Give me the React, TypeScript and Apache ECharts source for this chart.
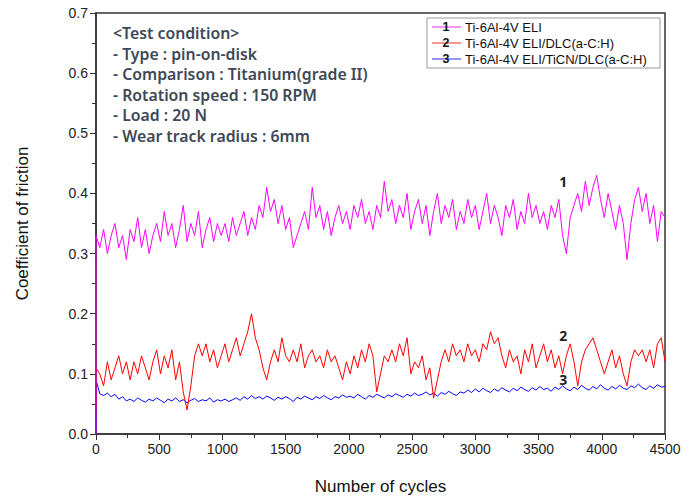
import React, { useEffect, useRef } from "react";
import * as echarts from "echarts";

const cycleStep = 30;
const seriesNames = ["Ti-6Al-4V ELI", "Ti-6Al-4V ELI/DLC(a-C:H)", "Ti-6Al-4V ELI/TiCN/DLC(a-C:H)"];
const seriesColors = ["#ff00ff", "#ff0000", "#0000ff"];
const legendLineColors = ["#f070f0", "#f07070", "#7070f0"];
const startValues = [0, 0.04, 0];

const cofTi = [
  0.33, 0.31, 0.34, 0.30, 0.33, 0.35, 0.31, 0.33, 0.29, 0.34, 0.32, 0.36, 0.31, 0.34, 0.30, 0.33, 0.35,
  0.32, 0.37, 0.33, 0.35, 0.31, 0.34, 0.38, 0.32, 0.35, 0.33, 0.37, 0.31, 0.34, 0.36, 0.32, 0.35, 0.33,
  0.35, 0.32, 0.36, 0.33, 0.35, 0.37, 0.33, 0.36, 0.34, 0.38, 0.36, 0.41, 0.37, 0.39, 0.35, 0.38, 0.34,
  0.36, 0.31, 0.33, 0.35, 0.37, 0.34, 0.41, 0.36, 0.38, 0.34, 0.37, 0.33, 0.36, 0.38, 0.35, 0.37,
  0.34, 0.38, 0.36, 0.39, 0.35, 0.37, 0.34, 0.38, 0.36, 0.42, 0.37, 0.39, 0.35, 0.38, 0.36, 0.40, 0.34,
  0.37, 0.39, 0.35, 0.38, 0.33, 0.37, 0.40, 0.35, 0.38, 0.36, 0.39, 0.34, 0.37, 0.35, 0.39, 0.36, 0.38,
  0.34, 0.37, 0.40, 0.35, 0.38, 0.36, 0.33, 0.38, 0.36, 0.39, 0.34, 0.37, 0.35, 0.40, 0.36, 0.38,
  0.35, 0.37, 0.34, 0.38, 0.36, 0.39, 0.33, 0.30, 0.36, 0.38, 0.40, 0.37, 0.42, 0.38, 0.41, 0.43, 0.39,
  0.36, 0.40, 0.37, 0.34, 0.38, 0.35, 0.29, 0.35, 0.39, 0.41, 0.37, 0.40, 0.35, 0.38, 0.32, 0.37, 0.36,
];

const cofDlc = [
  0.11, 0.10, 0.08, 0.12, 0.09, 0.11, 0.13, 0.10, 0.12, 0.09, 0.12, 0.10, 0.13, 0.11, 0.09, 0.12, 0.14,
  0.10, 0.13, 0.11, 0.14, 0.09, 0.12, 0.07, 0.04, 0.08, 0.13, 0.15, 0.13, 0.15, 0.12, 0.14, 0.11, 0.13,
  0.15, 0.12, 0.14, 0.16, 0.13, 0.15, 0.17, 0.20, 0.16, 0.14, 0.11, 0.09, 0.12, 0.14, 0.12, 0.16, 0.13,
  0.12, 0.14, 0.12, 0.15, 0.11, 0.13, 0.14, 0.12, 0.13, 0.11, 0.14, 0.12, 0.13, 0.11, 0.09, 0.12,
  0.10, 0.13, 0.11, 0.14, 0.12, 0.15, 0.13, 0.07, 0.10, 0.13, 0.12, 0.14, 0.12, 0.15, 0.13, 0.16, 0.10,
  0.12, 0.11, 0.13, 0.09, 0.11, 0.06, 0.09, 0.12, 0.14, 0.12, 0.15, 0.13, 0.14, 0.12, 0.15, 0.13, 0.14,
  0.12, 0.15, 0.14, 0.17, 0.15, 0.16, 0.13, 0.11, 0.14, 0.12, 0.13, 0.10, 0.14, 0.12, 0.15, 0.11,
  0.13, 0.15, 0.12, 0.14, 0.11, 0.13, 0.10, 0.13, 0.15, 0.12, 0.08, 0.12, 0.14, 0.15, 0.16, 0.14, 0.12,
  0.10, 0.12, 0.14, 0.11, 0.13, 0.10, 0.08, 0.12, 0.14, 0.13, 0.14, 0.12, 0.14, 0.11, 0.15, 0.16, 0.12,
];

const cofTicnDlc = [
  0.09, 0.067, 0.064, 0.068, 0.062, 0.066, 0.058, 0.062, 0.055, 0.058, 0.054, 0.060, 0.056, 0.053, 0.058, 0.055, 0.060,
  0.056, 0.052, 0.058, 0.055, 0.060, 0.054, 0.057, 0.052, 0.056, 0.059, 0.054, 0.057, 0.055, 0.060, 0.053, 0.057, 0.055,
  0.058, 0.054, 0.057, 0.060, 0.056, 0.062, 0.058, 0.064, 0.059, 0.062, 0.058, 0.063, 0.060, 0.056, 0.061, 0.058, 0.062,
  0.059, 0.054, 0.061, 0.058, 0.063, 0.060, 0.057, 0.062, 0.059, 0.064, 0.060, 0.057, 0.062, 0.060, 0.065, 0.061,
  0.063, 0.060, 0.066, 0.062, 0.058, 0.064, 0.061, 0.066, 0.063, 0.060, 0.065, 0.062, 0.067, 0.064, 0.061, 0.066, 0.063,
  0.068, 0.064, 0.066, 0.070, 0.065, 0.068, 0.063, 0.069, 0.066, 0.071, 0.067, 0.064, 0.070, 0.068, 0.073, 0.069, 0.075,
  0.070, 0.076, 0.072, 0.069, 0.075, 0.071, 0.077, 0.073, 0.070, 0.076, 0.072, 0.078, 0.074, 0.071, 0.077, 0.073,
  0.079, 0.074, 0.076, 0.071, 0.078, 0.074, 0.080, 0.075, 0.072, 0.078, 0.074, 0.081, 0.076, 0.073, 0.079, 0.075, 0.082,
  0.076, 0.073, 0.079, 0.075, 0.081, 0.076, 0.074, 0.080, 0.077, 0.083, 0.077, 0.074, 0.080, 0.076, 0.082, 0.078, 0.079,
];

const curveLabels = ["1", "2", "3"];
const curveLabelCoords = [
  [3695, 0.42],
  [3695, 0.164],
  [3695, 0.091],
];

const testConditionLines = [
  "<Test condition>",
  "- Type : pin-on-disk",
  "- Comparison : Titanium(grade II)",
  "- Rotation speed : 150 RPM",
  "- Load : 20 N",
  "- Wear track radius : 6mm",
];

const allValues = [cofTi, cofDlc, cofTicnDlc];

export default function App() {
  const ref = useRef<HTMLDivElement>(null);
  useEffect(() => {
    if (!ref.current) return;
    const chart = echarts.init(ref.current, null, { renderer: "svg" });
    const series = allValues.map((vals, si) => ({
      name: seriesNames[si],
      type: "line",
      showSymbol: false,
      symbol: "none",
      z: 5 - si,
      lineStyle: { color: seriesColors[si], width: 1 },
      data: [[0, startValues[si]], ...vals.map((v, i) => [i * cycleStep, v])],
      markPoint: {
        symbol: "circle",
        symbolSize: 0,
        label: {
          show: true,
          formatter: curveLabels[si],
          color: "#222",
          fontFamily: "Noto Sans",
          fontWeight: "bold",
          fontSize: 14,
          position: "inside",
        },
        data: [{ coord: curveLabelCoords[si] }],
      },
    }));

    const legendGraphics: any[] = [
      {
        type: "rect",
        shape: { x: 427, y: 18, width: 233, height: 50 },
        style: { fill: "#fff", stroke: "#9a9a9a", lineWidth: 1 },
        z: 10,
      },
    ];
    seriesNames.forEach((name, i) => {
      const y = 27 + i * 16;
      legendGraphics.push({
        type: "line",
        shape: { x1: 432, y1: y, x2: 461, y2: y },
        style: { stroke: legendLineColors[i], lineWidth: 1.5 },
        z: 11,
      });
      legendGraphics.push({
        type: "text",
        x: 446,
        y: y,
        style: {
          text: curveLabels[i],
          fill: "#111",
          fontFamily: "Liberation Sans",
          fontWeight: "bold",
          fontSize: 12.5,
          lineHeight: 14,
          align: "center",
          verticalAlign: "middle",
        },
        z: 12,
      });
      legendGraphics.push({
        type: "text",
        x: 465,
        y: y,
        style: {
          text: name,
          fill: "#111",
          fontFamily: "Liberation Sans",
          fontSize: 13,
          lineHeight: 15,
          align: "left",
          verticalAlign: "middle",
        },
        z: 12,
      });
    });

    const conditionGraphics = testConditionLines.map((line, i) => ({
      type: "text",
      x: 113,
      y: 33 + i * 20.6,
      style: {
        text: line,
        fill: "#3d4858",
        fontFamily: "Noto Sans",
        fontWeight: 600,
        fontSize: 15.8,
        lineHeight: 19,
        verticalAlign: "middle",
      },
      z: 10,
    }));

    chart.setOption({
      animation: false,
      backgroundColor: "#fff",
      grid: {
        left: 96,
        right: 34,
        top: 13,
        bottom: 64,
        show: true,
        borderColor: "#333",
        borderWidth: 1.5,
        backgroundColor: "transparent",
      },
      xAxis: {
        type: "value",
        min: 0,
        max: 4500,
        interval: 500,
        name: "Number of cycles",
        nameLocation: "middle",
        nameGap: 44,
        nameTextStyle: { fontFamily: "Liberation Sans", fontSize: 17, color: "#111" },
        axisLine: { show: true, onZero: false, lineStyle: { color: "#333", width: 1.5 } },
        axisTick: { show: true, inside: false, length: 6, lineStyle: { color: "#333" } },
        minorTick: { show: true, splitNumber: 2, length: 4, lineStyle: { color: "#333" } },
        splitLine: { show: false },
        axisLabel: {
          fontFamily: "Liberation Sans",
          fontSize: 14,
          color: "#222",
          margin: 8,
          formatter: (v: number) => String(v),
        },
      },
      yAxis: {
        type: "value",
        min: 0,
        max: 0.7,
        interval: 0.1,
        name: "Coefficient of friction",
        nameLocation: "middle",
        nameGap: 65,
        nameTextStyle: { fontFamily: "Liberation Sans", fontSize: 17, color: "#111" },
        axisLine: { show: true, lineStyle: { color: "#333", width: 1.5 } },
        axisTick: { show: true, inside: false, length: 6, lineStyle: { color: "#333" } },
        minorTick: { show: true, splitNumber: 2, length: 4, lineStyle: { color: "#333" } },
        splitLine: { show: false },
        axisLabel: {
          fontFamily: "Liberation Sans",
          fontSize: 14,
          color: "#222",
          margin: 8,
          formatter: (v: number) => v.toFixed(1),
        },
      },
      series,
      graphic: [...conditionGraphics, ...legendGraphics],
    });
    return () => chart.dispose();
  }, []);
  return (
    <div
      ref={ref}
      style={{ position: "absolute", left: 0, top: 0, width: 699, height: 500 }}
    />
  );
}
